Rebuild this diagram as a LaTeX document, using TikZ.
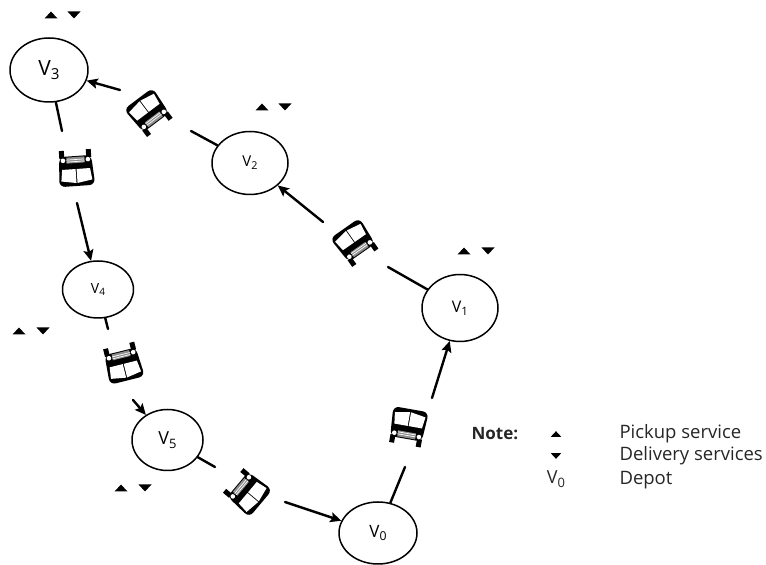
\documentclass[tikz,border=0pt]{standalone}
\usepackage{fontspec}
\setmainfont{Open Sans}
\usetikzlibrary{shapes.geometric,arrows.meta}
\newcommand{\vname}[1]{V\raisebox{-.35ex}{\scalebox{.72}{#1}}}
\tikzset{
    stopnode/.style={draw,ellipse,line width=1.5pt,inner sep=0pt},
    roadline/.style={line width=2.4pt},
    legendtext/.style={anchor=west,font=\fontsize{18.5}{18.5}\selectfont,text=black!85},
    pics/pickupmark/.style={code={\fill (-6.5,-3.5) -- (6.5,-3.5) -- (0,3.5) -- cycle;}},
    pics/deliverymark/.style={code={\fill (-6.5,3.5) -- (6.5,3.5) -- (0,-3.5) -- cycle;}},
    pics/busicon/.style={code={
        \fill[rounded corners=6pt] (-16,-12) -- (-18,18) -- (18,18) -- (16,-12) -- cycle;
        \fill (-16,-18) rectangle (-11,-10) (11,-18) rectangle (16,-10);
        \fill[white] (-14,1) -- (-15.5,12.5) -- (-.5,15) -- (-.5,1) -- cycle;
        \fill[white] (14,1) -- (15.5,12.5) -- (.5,15) -- (.5,1) -- cycle;
        \fill[black!45] (-9,-11) rectangle (9,-5);
        \draw[white,line width=.7pt] (-9,-6.5) -- (9,-6.5) (-9,-8.5) -- (9,-8.5);
        \fill[white] (-12.5,-8) circle(2.3) (12.5,-8) circle(2.3);
    }}
}
\begin{document}
\begin{tikzpicture}[x=1pt,y=1pt,line join=round,line cap=round,>={Stealth[length=11pt,width=10pt,inset=2pt]}]
    \useasboundingbox (0,0) rectangle (766,565);
    \node[stopnode,minimum width=78pt,minimum height=64pt] (v3) at (49,495) {\fontsize{21}{21}\selectfont\vname{3}};
    \node[stopnode,minimum width=76pt,minimum height=63pt] (v2) at (250,402) {\fontsize{15}{15}\selectfont\vname{2}};
    \node[stopnode,minimum width=76pt,minimum height=67pt] (v1) at (460,257) {\fontsize{16}{16}\selectfont\vname{1}};
    \node[stopnode,minimum width=71pt,minimum height=57pt] (v4) at (98,275.5) {\fontsize{14}{14}\selectfont\vname{4}};
    \node[stopnode,minimum width=71pt,minimum height=61pt] (v5) at (167.5,125) {\fontsize{18}{18}\selectfont\vname{5}};
    \node[stopnode,minimum width=78pt,minimum height=62pt] (v0) at (378,32) {\fontsize{17}{17}\selectfont\vname{0}};

    \coordinate (c01a) at (405,98);
    \coordinate (c01b) at (432,167);
    \coordinate (c12a) at (388,298);
    \coordinate (c12b) at (323,343);
    \coordinate (c23a) at (191,434);
    \coordinate (c23b) at (120,475);
    \coordinate (c34a) at (62,434);
    \coordinate (c34b) at (77,362);
    \coordinate (c45a) at (108,236);
    \coordinate (c45b) at (133,165);
    \coordinate (c50a) at (215,98);
    \coordinate (c50b) at (285,63);

    \draw[roadline] (v0) -- (c01a);
    \draw[roadline,->] (c01b) -- (v1);
    \draw[roadline] (v1) -- (c12a);
    \draw[roadline,->] (c12b) -- (v2);
    \draw[roadline] (v2) -- (c23a);
    \draw[roadline,->] (c23b) -- (v3);
    \draw[roadline] (v3) -- (c34a);
    \draw[roadline,->] (c34b) -- (v4);
    \draw[roadline] (v4) -- (c45a);
    \draw[roadline,->] (c45b) -- (v5);
    \draw[roadline] (v5) -- (c50a);
    \draw[roadline,->] (c50b) -- (v0);

    \pic[rotate=-10] at (408,138) {busicon};
    \pic[rotate=35] at (355,322) {busicon};
    \pic[rotate=37] at (149,452) {busicon};
    \pic[rotate=184] at (76,397) {busicon};
    \pic[rotate=194] at (123,202) {busicon};
    \pic[rotate=-130] at (247,73) {busicon};

    \pic at (51,550) {pickupmark};
    \pic at (74,550) {deliverymark};
    \pic at (262,458) {pickupmark};
    \pic at (285,458) {deliverymark};
    \pic at (464,314) {pickupmark};
    \pic at (488,314) {deliverymark};
    \pic at (19,234) {pickupmark};
    \pic at (43,234) {deliverymark};
    \pic at (121,77) {pickupmark};
    \pic at (145,77) {deliverymark};

    \node[legendtext,font=\fontsize{17}{17}\selectfont\bfseries] (note) at (468,131) {Note:};
    \pic[scale=.8] at (556,131) {pickupmark};
    \pic[scale=.8] at (556,109) {deliverymark};
    \node[text=black!85,font=\fontsize{18}{18}\selectfont] (depotsym) at (556,86) {\vname{0}};
    \node[legendtext] (pickup) at (616,131) {Pickup service};
    \node[legendtext] (delivery) at (616,109) {Delivery services};
    \node[legendtext] (depot) at (616,85) {Depot};
\end{tikzpicture}
\end{document}
